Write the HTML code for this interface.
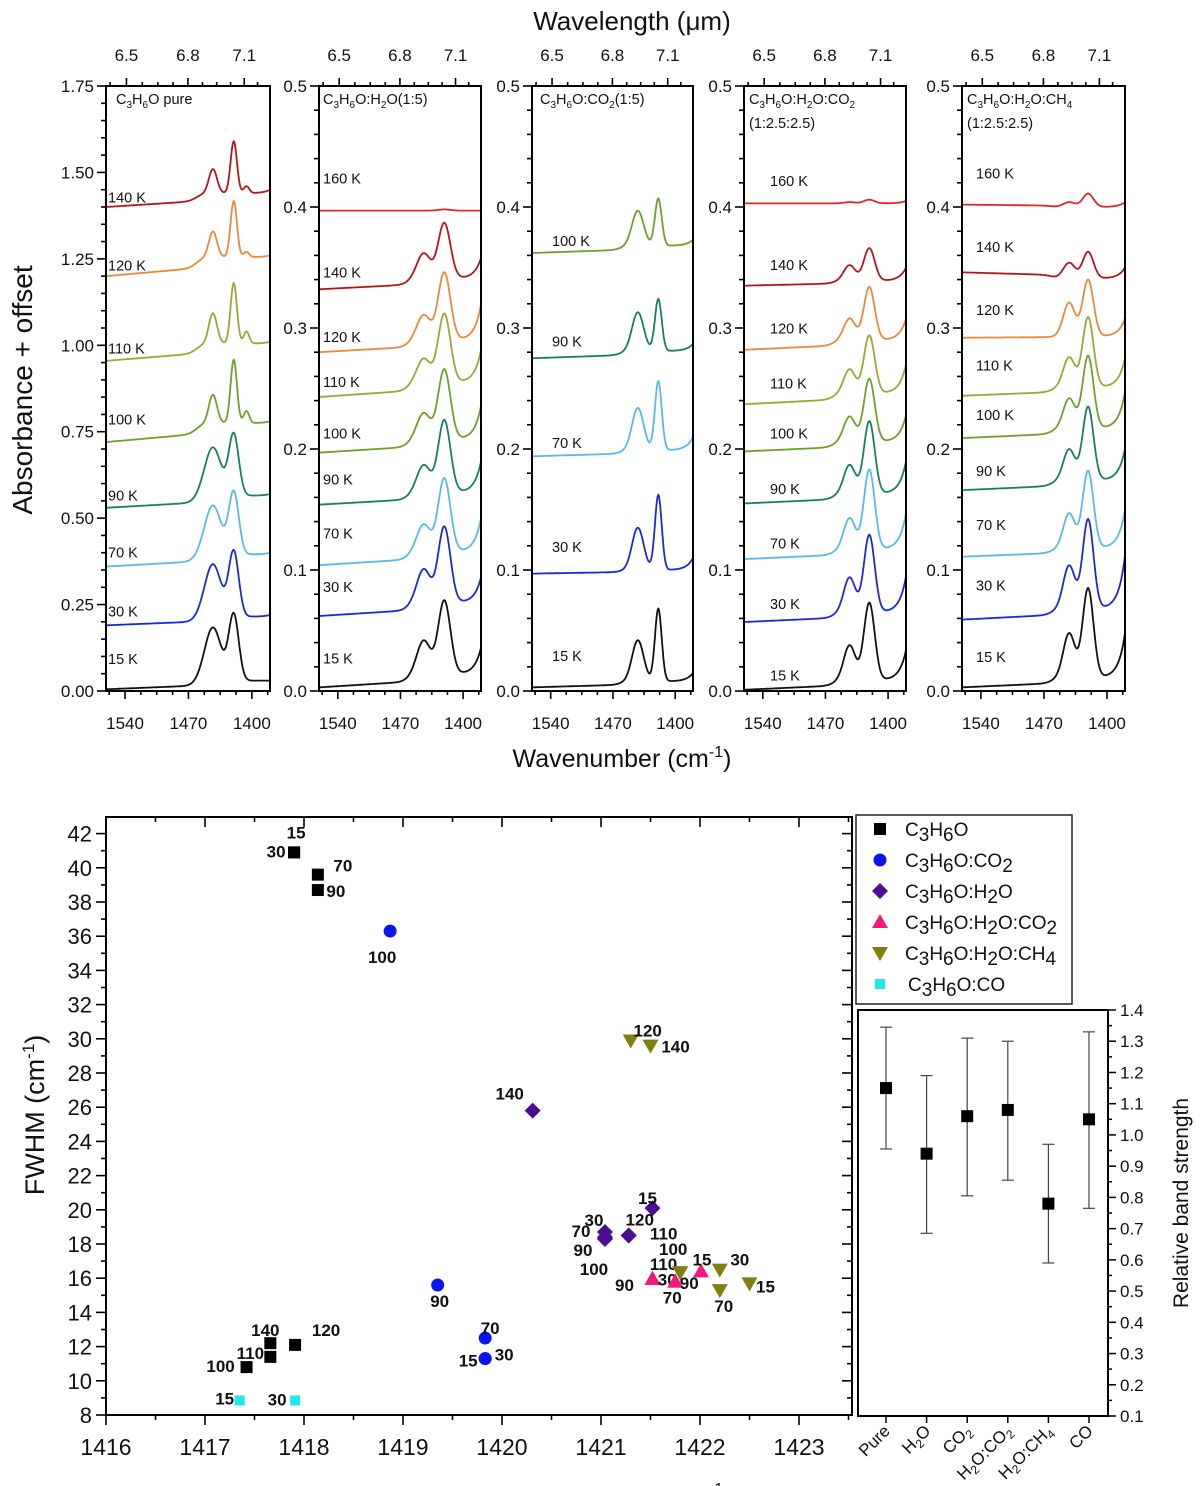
<!DOCTYPE html>
<html><head><meta charset="utf-8">
<style>
html,body{margin:0;padding:0;background:#fff;}
svg{display:block;font-family:"Liberation Sans",Arial,sans-serif;}
</style></head>
<body>
<svg id="fig" xmlns="http://www.w3.org/2000/svg" width="1200" height="1486" viewBox="0 0 1200 1486">
<rect width="1200" height="1486" fill="#fff"/>
<g id="topgroup"></g>
<g id="scatter"></g>
<g id="inset"></g>
</svg>
<script>
// ================= TOP SPECTRA DATA =================
const pureTemps = [15,30,70,90,100,110,120,140];
const pureBase  = [0.005,0.19,0.36,0.53,0.72,0.955,1.20,1.40];
const pureMin   = [0.03,0.215,0.395,0.565,0.775,1.005,1.255,1.44];
const pureRight = [0.03,0.22,0.40,0.57,0.78,1.01,1.26,1.45];
const purePeak1 = [0.184,0.367,0.537,0.705,0.857,1.093,1.33,1.51];
const purePeak2 = [0.226,0.408,0.58,0.747,0.958,1.18,1.417,1.59];
const purePeak3 = [0,0,0,0,0.81,1.04,1.27,1.46];
const pureW1 = [9,9,9,9,4.5,4.5,4.5,4.5];
const pureW2 = [5.5,5.5,5.5,5.5,3.5,3.5,3.5,3.5];
const pureLabelVal = [0.093,0.23,0.40,0.565,0.786,0.99,1.231,1.428];

const h2oTemps = [15,30,70,90,100,110,120,140,160];
const h2oBase  = [0.003,0.062,0.104,0.154,0.197,0.243,0.28,0.332,0.397];
const h2oMin   = [0.014,0.073,0.115,0.164,0.208,0.255,0.29,0.341,0.397];
const h2oRight = [0.036,0.094,0.143,0.19,0.236,0.282,0.32,0.358,0.397];
const h2oPeak1 = [0.042,0.101,0.138,0.187,0.23,0.275,0.311,0.362,0.397];
const h2oPeak2 = [0.075,0.136,0.176,0.224,0.266,0.312,0.346,0.387,0.398];
const h2oLabelVal = [0.027,0.086,0.130,0.175,0.213,0.2555,0.2925,0.346,0.4235];

const co2Temps = [15,30,70,90,100];
const co2Base  = [0.003,0.097,0.194,0.275,0.362];
const co2Min   = [0.008,0.10,0.199,0.281,0.368];
const co2Right = [0.015,0.11,0.21,0.287,0.373];
const co2Peak1 = [0.042,0.135,0.234,0.313,0.397];
const co2Peak2 = [0.068,0.162,0.256,0.324,0.407];
const co2LabelVal = [0.029,0.119,0.205,0.289,0.372];

const hcTemps = [15,30,70,90,100,110,120,140,160];
const hcBase  = [0.001,0.057,0.109,0.155,0.198,0.237,0.282,0.335,0.403];
const hcMin   = [0.009,0.065,0.117,0.163,0.206,0.246,0.29,0.339,0.403];
const hcRight = [0.034,0.095,0.147,0.19,0.228,0.27,0.308,0.35,0.405];
const hcPeak1 = [0.038,0.094,0.143,0.187,0.227,0.266,0.308,0.352,0.404];
const hcPeak2 = [0.073,0.129,0.183,0.223,0.258,0.294,0.334,0.366,0.406];
const hcLabelVal = [0.013,0.072,0.122,0.167,0.213,0.254,0.2995,0.352,0.4215];

const hmTemps = [15,30,70,90,100,110,120,140,160];
const hmBase  = [0.003,0.059,0.111,0.166,0.209,0.244,0.292,0.346,0.402];
const hmMin   = [0.011,0.068,0.118,0.174,0.217,0.251,0.293,0.341,0.400];
const hmRight = [0.048,0.112,0.15,0.2,0.247,0.275,0.308,0.35,0.404];
const hmPeak1 = [0.048,0.104,0.147,0.2,0.242,0.276,0.321,0.354,0.404];
const hmPeak2 = [0.085,0.142,0.182,0.235,0.277,0.309,0.34,0.363,0.411];
const hmLabelVal = [0.028,0.087,0.137,0.182,0.228,0.269,0.315,0.367,0.4275];

const xTickVals = [1540,1470,1400];
const wlTickVals = [6.5,6.8,7.1];

// ================= SCATTER DATA =================
const sqX = [1417.9,1417.9,1418.14,1418.14,1417.42,1417.66,1417.91,1417.66];
const sqY = [40.9,40.9,39.6,38.7,10.8,11.4,12.1,12.2];
const sqLab = ["15","30","70","90","100","110","120","140"];
const ciX = [1418.87,1419.35,1419.83,1419.83,1419.83];
const ciY = [36.3,15.6,12.5,11.3,11.3];
const ciLab = ["100","90","70","15","30"];
const diX = [1420.31,1421.52,1421.04,1421.04,1421.04,1421.04,1421.28,1421.28];
const diY = [25.8,20.1,18.7,18.4,18.3,18.3,18.5,18.5];
const diLab = ["140","15","30","70","90","100","120","110"];
const trX = [1421.52,1421.52,1421.75,1421.75,1422.01];
const trY = [15.96,15.96,15.8,15.8,16.4];
const trLab = ["110","90","30","70","15"];
const itX = [1421.30,1421.50,1421.80,1421.80,1422.20,1422.20,1422.50];
const itY = [29.9,29.6,16.35,16.35,16.5,15.3,15.7];
const itLab = ["120","140","100","90","30","70","15"];
const cyX = [1417.35,1417.91];
const cyY = [8.85,8.85];
const cyLab = ["15","30"];

// ================= INSET DATA =================
const insetCats = ["Pure","H2O","CO2","H2O:CO2","H2O:CH4","CO"];
const insetVals = [1.15,0.94,1.06,1.08,0.78,1.05];
const insetLow  = [0.955,0.685,0.805,0.855,0.59,0.765];
const insetHigh = [1.345,1.19,1.31,1.30,0.97,1.33];
const insetTicks = [0.1,0.2,0.3,0.4,0.5,0.6,0.7,0.8,0.9,1.0,1.1,1.2,1.3,1.4];

// ================= HELPERS =================
const NS = "http://www.w3.org/2000/svg";
function mk(tag, attrs, parent){const e=document.createElementNS(NS,tag);for(const k in attrs)e.setAttribute(k,attrs[k]);if(parent)parent.appendChild(e);return e;}
function txt(parent, x, y, s, size, anchor, extra){const t=mk('text',Object.assign({x:x,y:y,'font-size':size,'text-anchor':anchor||'start',fill:'#111'},extra||{}),parent);t.textContent=s;return t;}
function gau(v,c,w){return Math.exp(-(v-c)*(v-c)/(2*w*w));}
const tempColor = {15:'#111111',30:'#1a2ad6',70:'#5ab8ea',90:'#17805e',100:'#6fa02a',110:'#9ea534',120:'#e88a3c',140:'#b3171b',160:'#e3262a'};

const topG = document.getElementById('topgroup');
const T0=86, B0=691, NU_L=1561, NU_R=1380;

function buildPanel(opt){
  const pg = mk('g',{},topG);
  
  
  const L=opt.leftPx, R=opt.rightPx;
  const xs = nu => L + (NU_L-nu)*(R-L)/(NU_L-NU_R);
  const ys = v => B0 - v*(B0-T0)/opt.ymax;
  const n = opt.temps.length;
  for(let i=0;i<n;i++){
    const base=opt.base[i], mn=opt.min[i], rt=opt.right[i];
    const w1=Array.isArray(opt.w1)?opt.w1[i]:opt.w1, w2=Array.isArray(opt.w2)?opt.w2[i]:opt.w2;
    const ramp=mn-base, tail=rt-mn;
    const H1=opt.p1[i]-mn, H2=opt.p2[i]-mn;
    const a=gau(opt.c1,opt.c2,w2), b=gau(opt.c2,opt.c1,w1);
    let A1=(H1-a*H2)/(1-a*b), A2=H2-b*A1;
    if(A1<0)A1=0; if(A2<0)A2=0;
    let A3=0;
    if(opt.p3 && opt.p3[i]>0){A3=opt.p3[i]-mn-A2*gau(1406,opt.c2,w2);}
    let d='';
    for(let nu=NU_L; nu>=NU_R-0.01; nu-=0.5){
      const lin=Math.min(1,Math.max(0,(NU_L-nu)/95));
      const S=0.4*lin+0.6/(1+Math.exp((nu-1461)/4));
      const v=base+ramp*S+A1*gau(nu,opt.c1,w1)+A2*gau(nu,opt.c2,w2)+A3*gau(nu,1406,3)+tail*Math.exp(-(nu-NU_R)/7);
      d+=(d?'L':'M')+xs(nu).toFixed(1)+','+ys(v).toFixed(1);
    }
    const p=mk('path',{d:d,fill:'none',stroke:tempColor[opt.temps[i]],'stroke-width':1.8},pg);
    
    
    const lt=txt(pg,L+opt.labDx,ys(opt.labelVal[i])+5,opt.temps[i]+' K',14.5,'start');
    
    
  }
  mk('rect',{x:L,y:T0,width:R-L,height:B0-T0,fill:'none',stroke:'#000','stroke-width':2},pg);
  for(let nu=1557.5; nu>=NU_R; nu-=17.5){
    const major = xTickVals.some(t=>Math.abs(t-nu)<0.1);
    mk('line',{x1:xs(nu),x2:xs(nu),y1:B0,y2:B0+(major?8:4),stroke:'#000','stroke-width':1.6},pg);
  }
  xTickVals.forEach(t=>{const e=txt(pg,xs(t),B0+38,String(t),17,'middle');});
  for(let lam=6.425; lam<=7.25; lam+=0.075){
    const nu=1e4/lam; if(nu>NU_L||nu<NU_R) continue;
    const major = wlTickVals.some(t=>Math.abs(t-lam)<0.01);
    mk('line',{x1:xs(nu),x2:xs(nu),y1:T0,y2:T0-(major?8:4),stroke:'#000','stroke-width':1.6},pg);
  }
  wlTickVals.forEach(t=>{const e=txt(pg,xs(1e4/t),T0-25,t.toFixed(1),17,'middle');});
  const nMinor=Math.round(opt.ymax/opt.minor);
  for(let k=0;k<=nMinor;k++){
    const v=k*opt.minor; const major=Math.abs(v/opt.major-Math.round(v/opt.major))<1e-6;
    mk('line',{x1:L,x2:L-(major?9:5),y1:ys(v),y2:ys(v),stroke:'#000','stroke-width':1.6},pg);
    if(major){const e=txt(pg,L-12,ys(v)+6,v.toFixed(opt.dec),17,'end');}
  }
  const tt=mk('text',{x:L+opt.titleDx,y:T0+18,'font-size':14.5,fill:'#111'},pg);
  
  
  let html='', low=false;
  opt.title.forEach(part=>{
    if(part[1]){ html += '<tspan font-size="10" dy="'+(low?0:4)+'">'+part[0]+'</tspan>'; low=true; }
    else { html += '<tspan dy="'+(low?-4:0)+'">'+part[0]+'</tspan>'; low=false; }
  });
  tt.innerHTML=html;
  if(opt.title2){const t2=txt(pg,L+opt.titleDx,T0+42,opt.title2,14.5,'start');}
}
const sub = s=>[s,true], nrm=s=>[s,false];
buildPanel({name:'panel-pure',leftPx:106,rightPx:270,ymax:1.75,major:0.25,minor:0.05,dec:2,temps:pureTemps,base:pureBase,min:pureMin,right:pureRight,p1:purePeak1,p2:purePeak2,p3:purePeak3,w1:pureW1,w2:pureW2,c1:1443,c2:1420,labelVal:pureLabelVal,labDx:2,titleDx:10,title:[nrm('C'),sub('3'),nrm('H'),sub('6'),nrm('O pure')]});
buildPanel({name:'panel-h2o',leftPx:319,rightPx:481,ymax:0.5,major:0.1,minor:0.02,dec:1,temps:h2oTemps,base:h2oBase,min:h2oMin,right:h2oRight,p1:h2oPeak1,p2:h2oPeak2,w1:7.5,w2:6.8,c1:1444,c2:1421,labelVal:h2oLabelVal,labDx:4,titleDx:4,title:[nrm('C'),sub('3'),nrm('H'),sub('6'),nrm('O:H'),sub('2'),nrm('O(1:5)')]});
buildPanel({name:'panel-co2',leftPx:532,rightPx:693,ymax:0.5,major:0.1,minor:0.02,dec:1,temps:co2Temps,base:co2Base,min:co2Min,right:co2Right,p1:co2Peak1,p2:co2Peak2,w1:6.5,w2:3.8,c1:1442,c2:1419,labelVal:co2LabelVal,labDx:20,titleDx:8,title:[nrm('C'),sub('3'),nrm('H'),sub('6'),nrm('O:CO'),sub('2'),nrm('(1:5)')]});
buildPanel({name:'panel-h2o-co2',leftPx:744,rightPx:906,ymax:0.5,major:0.1,minor:0.02,dec:1,temps:hcTemps,base:hcBase,min:hcMin,right:hcRight,p1:hcPeak1,p2:hcPeak2,w1:6.5,w2:6,c1:1443,c2:1421,labelVal:hcLabelVal,labDx:26,titleDx:5,title:[nrm('C'),sub('3'),nrm('H'),sub('6'),nrm('O:H'),sub('2'),nrm('O:CO'),sub('2')],title2:'(1:2.5:2.5)'});
buildPanel({name:'panel-h2o-ch4',leftPx:962,rightPx:1125,ymax:0.5,major:0.1,minor:0.02,dec:1,temps:hmTemps,base:hmBase,min:hmMin,right:hmRight,p1:hmPeak1,p2:hmPeak2,w1:6.5,w2:6,c1:1442,c2:1421,labelVal:hmLabelVal,labDx:14,titleDx:5,title:[nrm('C'),sub('3'),nrm('H'),sub('6'),nrm('O:H'),sub('2'),nrm('O:CH'),sub('4')],title2:'(1:2.5:2.5)'});

const wt=txt(topG,632,30,'Wavelength (\u03bcm)',26,'middle');

const yt=txt(topG,0,0,'Absorbance + offset',28,'middle',{transform:'translate(32,390) rotate(-90)'});

const bt=mk('text',{x:622,y:767,'font-size':25,'text-anchor':'middle',fill:'#111'},topG);

bt.innerHTML='Wavenumber (cm<tspan dy="-10" font-size="16">-1</tspan><tspan dy="10">)</tspan>';

// ================= SCATTER =================
const sc=document.getElementById('scatter');
const SL=106, SR=852, ST=817, SB=1415;
const sx = v => SL + (v-1416)*99;
const sy = v => SB - (v-8)*17.1;
mk('rect',{x:SL,y:ST,width:SR-SL,height:SB-ST,fill:'none',stroke:'#000','stroke-width':2},sc);
for(let v=8; v<=42; v++){
  const major = v%2===0;
  mk('line',{x1:SL,x2:SL-(major?10:5),y1:sy(v),y2:sy(v),stroke:'#000','stroke-width':1.6},sc);
  mk('line',{x1:SR,x2:SR-(major?10:5),y1:sy(v),y2:sy(v),stroke:'#000','stroke-width':1.6},sc);
  if(major){const e=txt(sc,SL-14,sy(v)+8,String(v),22,'end');}
}
for(let v=1416; v<=1423.5; v+=0.5){
  const major = Math.abs(v-Math.round(v))<1e-6;
  mk('line',{x1:sx(v),x2:sx(v),y1:SB,y2:SB+(major?10:5),stroke:'#000','stroke-width':1.6},sc);
  mk('line',{x1:sx(v),x2:sx(v),y1:ST,y2:ST+(major?10:5),stroke:'#000','stroke-width':1.6},sc);
  if(major){const e=txt(sc,sx(v),SB+40,String(v),23,'middle');}
}
const ft=mk('text',{transform:'translate(44,1115) rotate(-90)','font-size':27,'text-anchor':'middle',fill:'#111'},sc);

ft.innerHTML='FWHM (cm<tspan dy="-10" font-size="17">-1</tspan><tspan dy="10">)</tspan>';
const bt2=mk('text',{x:622,y:1506,'font-size':25,'text-anchor':'middle',fill:'#111'},sc);

bt2.innerHTML='Wavenumber (cm<tspan dy="-12" font-size="16">-1</tspan><tspan dy="12">)</tspan>';

function marker(parent,shape,x,y,color){
  let e;
  if(shape==='sq') e=mk('rect',{x:x-6,y:y-6,width:12,height:12,fill:color},parent);
  else if(shape==='cy') e=mk('rect',{x:x-5,y:y-5,width:10,height:10,fill:color},parent);
  else if(shape==='ci') e=mk('circle',{cx:x,cy:y,r:6.5,fill:color},parent);
  else if(shape==='di') e=mk('path',{d:`M${x},${y-8}L${x+8},${y}L${x},${y+8}L${x-8},${y}Z`,fill:color},parent);
  else if(shape==='tr') e=mk('path',{d:`M${x},${y-8}L${x+8},${y+6}L${x-8},${y+6}Z`,fill:color},parent);
  else e=mk('path',{d:`M${x},${y+8}L${x+8},${y-6}L${x-8},${y-6}Z`,fill:color},parent);
  return e;
}
const sqOff=[[2,-20],[-18,-1],[25,-9],[18,1],[-26,-1],[-20,-4],[31,-15],[-5,-13]];
const ciOff=[[-8,26],[2,16],[5,-10],[-17,2],[19,-4]];
const diOff=[[-23,-17],[-5,-10],[-11,-12],[-24,-6],[-22,11],[-11,30],[11,-16],[35,-2]];
const trOff=[[11,-15],[-28,6],[-8,-2],[-3,16],[1,-12]];
const itOff=[[17,-10],[25,1],[-7,-23],[9,11],[20,-10],[4,16],[16,3]];
const cyOff=[[-15,-2],[-18,-1]];
const series=[
 ['c3h6o','sq','#000',sqX,sqY,sqLab,sqOff],
 ['c3h6o-co2','ci','#0a14f0',ciX,ciY,ciLab,ciOff],
 ['c3h6o-h2o','di','#4b0d91',diX,diY,diLab,diOff],
 ['c3h6o-h2o-co2','tr','#f4187c',trX,trY,trLab,trOff],
 ['c3h6o-h2o-ch4','it','#7f7f0c',itX,itY,itLab,itOff],
 ['c3h6o-co','cy','#1fe8ee',cyX,cyY,cyLab,cyOff]
];
series.forEach(s=>{
  const sg=mk('g',{},sc);
  
  
  s[3].forEach((xv,i)=>{
    const px=sx(xv), py=sy(s[4][i]);
    const m=marker(sg,s[1],px,py,s[2]);
    
    
    const o=s[6][i]||[0,-12];
    const l=txt(sg,px+o[0],py+o[1]+6,s[5][i],17,'middle',{'font-weight':'bold'});
    
    
  });
});

const lg=mk('g',{},sc);

mk('rect',{x:856,y:815,width:216,height:189,fill:'#fff',stroke:'#222','stroke-width':1.5},lg);
const legNames=[
 'C<tspan dy="5">3</tspan><tspan dy="-5">H</tspan><tspan dy="5">6</tspan><tspan dy="-5">O</tspan>',
 'C<tspan dy="5">3</tspan><tspan dy="-5">H</tspan><tspan dy="5">6</tspan><tspan dy="-5">O:CO</tspan><tspan dy="5">2</tspan>',
 'C<tspan dy="5">3</tspan><tspan dy="-5">H</tspan><tspan dy="5">6</tspan><tspan dy="-5">O:H</tspan><tspan dy="5">2</tspan><tspan dy="-5">O</tspan>',
 'C<tspan dy="5">3</tspan><tspan dy="-5">H</tspan><tspan dy="5">6</tspan><tspan dy="-5">O:H</tspan><tspan dy="5">2</tspan><tspan dy="-5">O:CO</tspan><tspan dy="5">2</tspan>',
 'C<tspan dy="5">3</tspan><tspan dy="-5">H</tspan><tspan dy="5">6</tspan><tspan dy="-5">O:H</tspan><tspan dy="5">2</tspan><tspan dy="-5">O:CH</tspan><tspan dy="5">4</tspan>',
 'C<tspan dy="5">3</tspan><tspan dy="-5">H</tspan><tspan dy="5">6</tspan><tspan dy="-5">O:CO</tspan>'
];
series.forEach((s,i)=>{
  const y=829+i*31;
  const m=marker(lg,s[1],880,y,s[2]);
  
  
  const t=mk('text',{x:i===5?908:905,y:y+7,'font-size':19,fill:'#111'},lg);
  t.innerHTML=legNames[i];
  
  
});

// ================= INSET =================
const ins=document.getElementById('inset');
const IL=858, IR=1108, IT=1010, IB=1416;
mk('rect',{x:IL,y:IT,width:IR-IL,height:IB-IT,fill:'#fff',stroke:'#000','stroke-width':2},ins);
const iy = v => IB - (v-0.1)*(IB-IT)/1.3;
const ix = i => 886 + i*40.6;
for(let k=0;k<=26;k++){
  const v=0.1+k*0.05; const major=k%2===0;
  mk('line',{x1:IR,x2:IR+(major?8:4),y1:iy(v),y2:iy(v),stroke:'#000','stroke-width':1.5},ins);
}
insetTicks.forEach(v=>{const e=txt(ins,IR+12,iy(v)+6,v.toFixed(1),17,'start');});
const rbt=txt(ins,0,0,'Relative band strength',21,'middle',{transform:'translate(1188,1203) rotate(-90)'});

const catHtml={
 'Pure':'Pure',
 'H2O':'H<tspan dy="4" font-size="12">2</tspan><tspan dy="-4">O</tspan>',
 'CO2':'CO<tspan dy="4" font-size="12">2</tspan>',
 'H2O:CO2':'H<tspan dy="4" font-size="12">2</tspan><tspan dy="-4">O:CO</tspan><tspan dy="4" font-size="12">2</tspan>',
 'H2O:CH4':'H<tspan dy="4" font-size="12">2</tspan><tspan dy="-4">O:CH</tspan><tspan dy="4" font-size="12">4</tspan>',
 'CO':'CO'
};
insetCats.forEach((c,i)=>{
  const x=ix(i);
  mk('line',{x1:x,x2:x,y1:IB,y2:IB+7,stroke:'#000','stroke-width':1.5},ins);
  const eb=mk('g',{stroke:'#444','stroke-width':1.2},ins);
  
  
  mk('line',{x1:x,x2:x,y1:iy(insetLow[i]),y2:iy(insetHigh[i])},eb);
  mk('line',{x1:x-6,x2:x+6,y1:iy(insetLow[i]),y2:iy(insetLow[i])},eb);
  mk('line',{x1:x-6,x2:x+6,y1:iy(insetHigh[i]),y2:iy(insetHigh[i])},eb);
  const m=mk('rect',{x:x-6,y:iy(insetVals[i])-6,width:12,height:12,fill:'#000'},ins);
  
  
  const t=mk('text',{transform:`translate(${x+5},${IB+16}) rotate(-45)`,'text-anchor':'end','font-size':17,fill:'#111'},ins);
  t.innerHTML=catHtml[c];
  
  
});
</script>
</body></html>
